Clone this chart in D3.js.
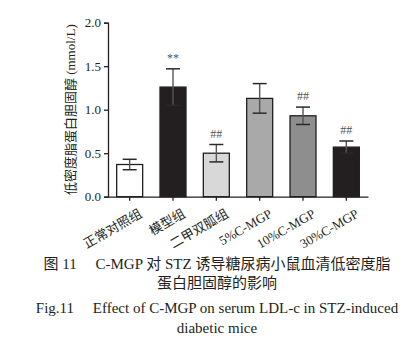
<!DOCTYPE html>
<html>
<head>
<meta charset="utf-8">
<script src="https://cdn.jsdelivr.net/npm/d3@7"></script>
<style>
  body { margin: 0; background: #fff; }
  svg { display: block; }
  .serif { font-family: "Liberation Serif", "Noto Sans CJK SC", serif; }
</style>
</head>
<body>
<svg id="chart" width="420" height="353"></svg>
<script>
const groups = ['正常对照组', '模型组', '二甲双胍组', '5%C-MGP', '10%C-MGP', '30%C-MGP'];
const means = [0.37, 1.26, 0.50, 1.13, 0.93, 0.57];
const errors = [0.06, 0.21, 0.10, 0.17, 0.10, 0.07];
const marks = ['', '**', '##', '', '##', '##'];
const fills = ['#ffffff', '#231f20', '#d8d8d8', '#a9a9a9', '#8e8e8e', '#231f20'];
const yTicks = [0, 0.5, 1.0, 1.5, 2.0];
const yLabel = '低密度脂蛋白胆固醇 (mmol/L)';
const caption = [
  '图 11\u2003 C-MGP 对 STZ 诱导糖尿病小鼠血清低密度脂',
  '蛋白胆固醇的影响',
  'Fig.11\u2003 Effect of C-MGP on serum LDL-c in STZ-induced',
  'diabetic mice'
];

const svg = d3.select('#chart');
const dark = '#231f20';

const x = d3.scaleBand().domain(groups).range([108, 368]).paddingInner(0.4).paddingOuter(0.2);
const y = d3.scaleLinear().domain([0, 2]).range([196.7, 22.7]);

const g = svg.append('g').attr('class', 'serif');

// bars
g.selectAll('rect.bar')
  .data(groups)
  .join('rect')
    .attr('class', 'bar')
    .attr('x', d => x(d))
    .attr('width', x.bandwidth())
    .attr('y', (d, i) => y(means[i]))
    .attr('height', (d, i) => y(0) - y(means[i]))
    .attr('fill', (d, i) => fills[i])
    .attr('stroke', dark)
    .attr('stroke-width', 1.3);

// error bars
const cap = 14;
const cx = d => x(d) + x.bandwidth() / 2;
const eb = g.selectAll('g.err')
  .data(groups)
  .join('g')
    .attr('class', 'err');
eb.append('line')
  .attr('stroke', '#555')
  .attr('stroke-width', 1.4)
  .attr('x1', cx)
  .attr('x2', cx)
  .attr('y1', (d, i) => y(means[i] - errors[i]))
  .attr('y2', (d, i) => y(means[i] + errors[i]));
[1, -1].forEach(s => {
  eb.append('line')
    .attr('stroke', '#2a2a2a')
    .attr('stroke-width', 1.5)
    .attr('x1', d => cx(d) - cap / 2)
    .attr('x2', d => cx(d) + cap / 2)
    .attr('y1', (d, i) => y(means[i] + s * errors[i]))
    .attr('y2', (d, i) => y(means[i] + s * errors[i]));
});

// significance marks
g.selectAll('text.mark')
  .data(groups)
  .join('text')
    .attr('class', 'mark')
    .attr('x', cx)
    .attr('y', (d, i) => y(means[i] + errors[i]) - 7)
    .attr('text-anchor', 'middle')
    .attr('font-size', 12)
    .attr('fill', '#555')
    .text((d, i) => marks[i]);

// y axis
const yAxis = g.append('g')
  .attr('transform', `translate(${x.range()[0]},0)`)
  .call(d3.axisLeft(y).tickValues(yTicks).tickFormat(d3.format('.1f')).tickSize(4).tickPadding(3));
yAxis.select('.domain').attr('stroke', dark).attr('stroke-width', 1.3);
yAxis.selectAll('.tick line').attr('stroke', dark).attr('stroke-width', 1.3);
yAxis.selectAll('text').attr('font-size', 13).attr('fill', dark)
  .attr('font-family', '"Liberation Serif", serif');

// x axis
const xAxis = g.append('g')
  .attr('transform', `translate(0,${y(0)})`)
  .call(d3.axisBottom(x).tickSize(4).tickSizeOuter(0).tickPadding(6));
xAxis.select('.domain').attr('stroke', dark).attr('stroke-width', 1.3);
xAxis.selectAll('.tick line').attr('stroke', dark).attr('stroke-width', 1.3);
xAxis.selectAll('text')
  .attr('font-size', 13)
  .attr('fill', dark)
  .attr('font-family', '"Liberation Serif", "Noto Sans CJK SC", serif')
  .attr('text-anchor', 'end')
  .attr('dy', '0.35em')
  .attr('transform', 'translate(6,7) rotate(-30)');

// y label
g.append('text')
  .attr('transform', `translate(75,${(y(0) + y(2)) / 2}) rotate(-90)`)
  .attr('text-anchor', 'middle')
  .attr('font-size', 13)
  .attr('fill', dark)
  .text(yLabel);

// caption
const capY = [269, 288, 313, 333];
svg.append('g').attr('class', 'serif')
  .selectAll('text')
  .data(caption)
  .join('text')
    .attr('x', 217)
    .attr('y', (d, i) => capY[i])
    .attr('text-anchor', 'middle')
    .attr('font-size', 15)
    .attr('fill', '#231f20')
    .text(d => d);
</script>
</body>
</html>
